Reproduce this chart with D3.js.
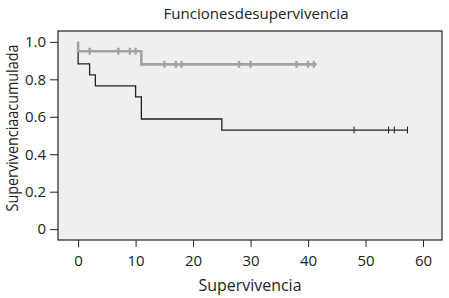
<!DOCTYPE html>
<html>
<head>
<meta charset="utf-8">
<script src="https://cdn.jsdelivr.net/npm/d3@7"></script>
<style>
  body { margin: 0; background: #fff; }
  text { font-family: "Open Sans", sans-serif; fill: #222; }
</style>
</head>
<body>
<svg id="chart" width="449" height="298"></svg>
<script>
(function () {
  // grupo gris (curva superior): [tiempo, supervivencia]
  const grayTimes = [0, 0, 11, 41.5];
  const grayValues = [1, 0.95, 0.88, 0.88];
  const grayCensored = [2, 7, 9, 10, 15, 17, 18, 28, 30, 38, 40, 41];

  // grupo negro (curva inferior)
  const blackTimes = [0, 2, 3, 10, 11, 25, 57.4];
  const blackValues = [0.882, 0.824, 0.765, 0.706, 0.588, 0.529, 0.529];
  const blackCensored = [48, 54, 55, 57.3];

  const xTicks = [0, 10, 20, 30, 40, 50, 60];
  const yTicks = [0, 0.2, 0.4, 0.6, 0.8, 1.0];

  const left = 58, top = 31, right = 442, bottom = 240;
  const svg = d3.select("#chart");

  const x = d3.scaleLinear().domain([-3.5, 63.3]).range([left, right]);
  const y = d3.scaleLinear().domain([-0.058, 1.058]).range([bottom, top]);

  svg.append("rect")
    .attr("x", left).attr("y", top)
    .attr("width", right - left).attr("height", bottom - top)
    .attr("fill", "#efefef")
    .attr("stroke", "#222").attr("stroke-width", 1.2);

  svg.append("g")
    .attr("transform", `translate(${left},0)`)
    .call(d3.axisLeft(y).tickValues(yTicks).tickSize(8).tickPadding(4)
      .tickFormat(d => d === 0 ? "0" : d3.format(".1f")(d)))
    .call(g => g.select(".domain").remove())
    .call(g => g.selectAll("text").style("font-size", "15px"));

  svg.append("g")
    .attr("transform", `translate(0,${bottom})`)
    .call(d3.axisBottom(x).tickValues(xTicks).tickSize(7).tickPadding(8))
    .call(g => g.select(".domain").remove())
    .call(g => g.selectAll("text").style("font-size", "15px"));

  svg.selectAll(".tick line").attr("stroke", "#222");

  // curva negra (por debajo)
  svg.append("path")
    .datum([1].concat(blackValues))
    .attr("d", d3.line()
      .x((d, i) => x(i === 0 ? 0 : blackTimes[i - 1]))
      .y(d => y(d))
      .curve(d3.curveStepAfter))
    .attr("fill", "none")
    .attr("stroke", "#222")
    .attr("stroke-width", 1.3);

  svg.selectAll(".cb")
    .data(blackCensored)
    .enter().append("line")
    .attr("x1", d => x(d)).attr("x2", d => x(d))
    .attr("y1", y(0.529) - 3.5).attr("y2", y(0.529) + 3.5)
    .attr("stroke", "#222").attr("stroke-width", 1);

  // curva gris
  svg.append("path")
    .datum(grayValues)
    .attr("d", d3.line()
      .x((d, i) => x(grayTimes[i]))
      .y(d => y(d))
      .curve(d3.curveStepAfter))
    .attr("fill", "none")
    .attr("stroke", "#a3a3a3")
    .attr("stroke-width", 2.6);

  const grayLevel = t => {
    let v = grayValues[0];
    grayTimes.forEach((tt, i) => { if (tt <= t) v = grayValues[i]; });
    return v;
  };
  svg.selectAll(".cg")
    .data(grayCensored)
    .enter().append("line")
    .attr("x1", d => x(d)).attr("x2", d => x(d))
    .attr("y1", d => y(grayLevel(d)) - 3.5).attr("y2", d => y(grayLevel(d)) + 3.5)
    .attr("stroke", "#a3a3a3").attr("stroke-width", 2.4);

  svg.append("text")
    .attr("x", 256).attr("y", 19)
    .attr("text-anchor", "middle")
    .style("font-size", "14px")
    .attr("textLength", 185).attr("lengthAdjust", "spacingAndGlyphs")
    .text("Funcionesdesupervivencia");

  svg.append("text")
    .attr("x", 250).attr("y", 291)
    .attr("text-anchor", "middle")
    .style("font-size", "15.5px")
    .attr("textLength", 103).attr("lengthAdjust", "spacingAndGlyphs")
    .text("Supervivencia");

  svg.append("text")
    .attr("transform", "translate(18,128) rotate(-90)")
    .attr("text-anchor", "middle")
    .style("font-size", "15.5px")
    .attr("textLength", 167).attr("lengthAdjust", "spacingAndGlyphs")
    .text("Supervivenciaacumulada");
})();
</script>
</body>
</html>
